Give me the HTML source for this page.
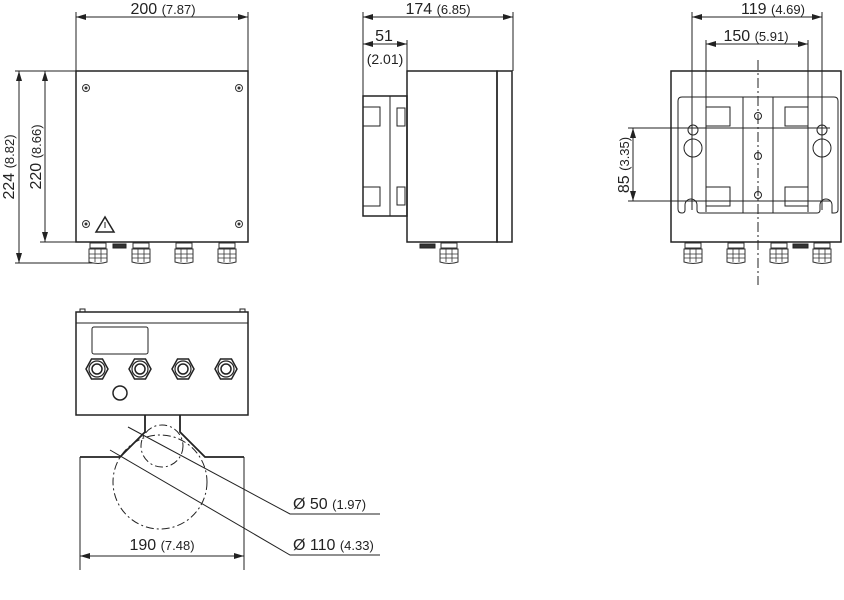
<!DOCTYPE html>
<html><head><style>body{margin:0;background:#fff}svg{display:block}text{font-family:"Liberation Sans",sans-serif;fill:#222}</style></head>
<body>
<svg width="844" height="600" viewBox="0 0 844 600" xmlns="http://www.w3.org/2000/svg">
<defs>
<marker id="a" viewBox="0 0 10 6" refX="10" refY="3" markerWidth="10" markerHeight="6" orient="auto-start-reverse" markerUnits="userSpaceOnUse"><path d="M0,0L10,3L0,6z" fill="#222"/></marker>
<g id="gl"><rect x="-8" y="0" width="16" height="5" fill="#fff" stroke="#333" stroke-width="1"/><path d="M-9,6h18v13q-9,3 -18,0z" fill="#fff" stroke="#333"/><path d="M-9,11h18M-9,15h18M-3,6v13M3,6v13" stroke="#333" stroke-width="0.8"/></g>
<g id="sc"><circle r="3.5" fill="none" stroke="#333"/><circle r="1.5" fill="#333"/></g>
<g id="nut"><polygon points="-11,0 -5.5,-10 5.5,-10 11,0 5.5,10 -5.5,10" fill="none" stroke="#222" stroke-width="1.5"/><circle r="8" fill="none" stroke="#222" stroke-width="1.2"/><circle r="5" fill="none" stroke="#222" stroke-width="1.5"/></g>
</defs>
<g stroke="#222" fill="none" stroke-width="1">
<!-- view 1 -->
<rect x="76" y="71" width="172" height="171" stroke-width="1.5"/>
<path d="M76,12V71M248,12V71M15,71H76M40,242H76M15,263H95"/>
<path d="M76,17H248" marker-start="url(#a)" marker-end="url(#a)"/>
<path d="M19,71V263" marker-start="url(#a)" marker-end="url(#a)"/>
<path d="M45,71V242" marker-start="url(#a)" marker-end="url(#a)"/>
<path d="M105,217L96,232H114Z" stroke-width="1.5"/><path d="M105,222v6" />
<rect x="113" y="244" width="13" height="4" fill="#333"/>
<!-- view 2 -->
<path d="M363,12V96M513,12V71M407,40V71"/>
<path d="M363,17H513" marker-start="url(#a)" marker-end="url(#a)"/>
<path d="M363,44H407" marker-start="url(#a)" marker-end="url(#a)"/>
<rect x="407" y="71" width="90" height="171" stroke-width="1.5"/>
<rect x="497" y="71" width="15" height="171" stroke-width="1.5"/>
<rect x="363" y="96" width="44" height="120" stroke-width="1.5"/>
<path d="M390,96V216"/>
<rect x="363" y="107" width="17" height="19"/><rect x="363" y="187" width="17" height="19"/>
<rect x="397" y="108" width="8" height="18"/><rect x="397" y="187" width="8" height="18"/>
<rect x="420" y="244" width="15" height="4" fill="#333"/>
<!-- view 3 -->
<rect x="671" y="71" width="170" height="171" stroke-width="1.5"/>
<path d="M682,97H834Q838,97 838,101V210Q838,213 834,213H832V205a6,6 0 0 0 -12,0V210q0,3 -3,3H700q-3,0 -3,-3V205a6,6 0 0 0 -12,0V210q0,3 -3,3Q678,213 678,209V101Q678,97 682,97Z"/>
<path d="M692,12V210M822,12V210M706,40V212M808,40V212M743,97V213M773,97V213"/>
<path d="M692,17H822" marker-start="url(#a)" marker-end="url(#a)"/>
<path d="M706,44H808" marker-start="url(#a)" marker-end="url(#a)"/>
<path d="M758,60V285" stroke-dasharray="10,3,2,3"/>
<rect x="706" y="107" width="24" height="19"/><rect x="785" y="107" width="23" height="19"/>
<rect x="706" y="187" width="24" height="19"/><rect x="785" y="187" width="23" height="19"/>
<circle cx="758" cy="116" r="3.5"/><circle cx="758" cy="156" r="3.5"/><circle cx="758" cy="195" r="3.5"/>
<circle cx="693" cy="148" r="9"/><circle cx="693" cy="130" r="5"/>
<circle cx="822" cy="148" r="9"/><circle cx="822" cy="130" r="5"/>
<path d="M628,128H830M628,201H830"/>
<path d="M633,128V201" marker-start="url(#a)" marker-end="url(#a)"/>
<rect x="793" y="244" width="15" height="4" fill="#333"/>
<!-- view 4 -->
<rect x="76" y="312" width="172" height="103" stroke-width="1.5"/>
<path d="M76,323H248"/>
<path d="M80,312v-3h5v3M240,312v-3h5v3"/>
<rect x="92" y="327" width="56" height="27" rx="2"/>
<circle cx="120" cy="393" r="7" stroke-width="1.5"/>
<path d="M145,415V432L120,457H80M180,415V432L205,457H244" stroke-width="1.8"/>
<path d="M80,457V570M244,457V570"/>
<circle cx="162" cy="446" r="21" stroke-dasharray="8,3,2,3"/>
<circle cx="160" cy="482" r="47" stroke-dasharray="8,3,2,3"/>
<path d="M80,556H244" marker-start="url(#a)" marker-end="url(#a)"/>
<path d="M128,427L290,514H380"/>
<path d="M110,450L290,555H380"/>
</g>
<g fill="#fff">
<use href="#gl" x="98" y="243"/><use href="#gl" x="141" y="243"/><use href="#gl" x="184" y="243"/><use href="#gl" x="227" y="243"/>
<use href="#gl" x="449" y="243"/>
<use href="#gl" x="693" y="243"/><use href="#gl" x="736" y="243"/><use href="#gl" x="779" y="243"/><use href="#gl" x="822" y="243"/>
<use href="#sc" x="86" y="88"/><use href="#sc" x="239" y="88"/><use href="#sc" x="86" y="224"/><use href="#sc" x="239" y="224"/>
<use href="#nut" x="97" y="369"/><use href="#nut" x="140" y="369"/><use href="#nut" x="183" y="369"/><use href="#nut" x="226" y="369"/>
</g>
<g font-size="16">
<text x="163" y="14" text-anchor="middle">200 <tspan font-size="13">(7.87)</tspan></text>
<text x="438" y="14" text-anchor="middle">174 <tspan font-size="13">(6.85)</tspan></text>
<text x="384" y="41" text-anchor="middle">51</text>
<text x="385" y="64" text-anchor="middle" font-size="14">(2.01)</text>
<text x="773" y="14" text-anchor="middle">119 <tspan font-size="13">(4.69)</tspan></text>
<text x="756" y="41" text-anchor="middle">150 <tspan font-size="13">(5.91)</tspan></text>
<text transform="translate(14,167) rotate(-90)" text-anchor="middle">224 <tspan font-size="13">(8.82)</tspan></text>
<text transform="translate(41,157) rotate(-90)" text-anchor="middle">220 <tspan font-size="13">(8.66)</tspan></text>
<text transform="translate(629,165) rotate(-90)" text-anchor="middle">85 <tspan font-size="13">(3.35)</tspan></text>
<text x="162" y="550" text-anchor="middle">190 <tspan font-size="13">(7.48)</tspan></text>
<text x="293" y="509">Ø 50 <tspan font-size="13">(1.97)</tspan></text>
<text x="293" y="550">Ø 110 <tspan font-size="13">(4.33)</tspan></text>
</g>
</svg>
</body></html>
